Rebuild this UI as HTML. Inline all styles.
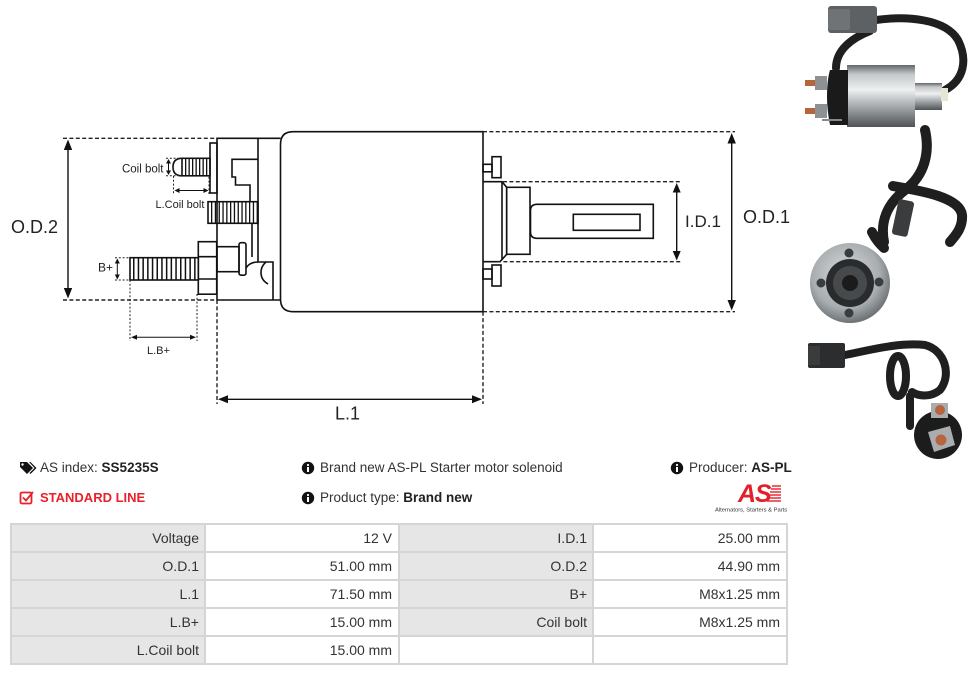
<!DOCTYPE html>
<html><head><meta charset="utf-8">
<style>
*{margin:0;padding:0;box-sizing:border-box}
html,body{width:976px;height:675px;background:#fff;overflow:hidden}
body{position:relative;font-family:"Liberation Sans",Arial,sans-serif;color:#333}
svg.main{position:absolute;left:0;top:0}
.t{position:absolute;font-size:13.5px;line-height:16px;white-space:nowrap;color:#333}
.t b{color:#222}
.red{color:#e8212b;font-weight:bold;font-size:13px}
.grid{position:absolute;left:10px;top:523px;width:778px;height:142px;background:#d5d5d5;padding:2px;display:grid;grid-template-columns:192px 192px 192px 192px;grid-template-rows:26px 26px 26px 26px 26px;gap:2px}
.grid div{background:#fff;font-size:14px;color:#333;display:flex;align-items:center;justify-content:flex-end;padding-right:6px;white-space:nowrap}
.grid div.l{background:#e6e6e6;padding-right:5px}
</style></head><body>
<svg class="main" width="976" height="675" viewBox="0 0 976 675" xmlns="http://www.w3.org/2000/svg">
<defs>
<linearGradient id="cyl" x1="0" y1="0" x2="0" y2="1">
<stop offset="0" stop-color="#62676a"/><stop offset="0.15" stop-color="#c4c8ca"/><stop offset="0.4" stop-color="#eef0f1"/><stop offset="0.72" stop-color="#979c9f"/><stop offset="1" stop-color="#4f5356"/>
</linearGradient>
<radialGradient id="fl" cx="0.45" cy="0.4" r="0.6">
<stop offset="0" stop-color="#d9dcde"/><stop offset="0.7" stop-color="#a8adb0"/><stop offset="1" stop-color="#6d7275"/>
</radialGradient>
</defs>

<!-- ===== DIAGRAM ===== -->
<g fill="none" stroke="#111" stroke-width="1.6">
<path d="M293,131.7 H483 V311.7 H293 Q280.5,311.7 280.5,299 V144.5 Q280.5,131.7 293,131.7 Z"/>
<path d="M280.5,138.3 H217 V300 H280.5"/>
<path d="M258,138.3 V262 H273 V300"/>
<path d="M266,262 C259,268 259,279 268,284"/>
<path d="M246,268 Q250,262 258,262"/>
<path d="M258,159.3 H232 V177 H235.5 V185 H250 V201.7 M252,223.3 V257"/>
<rect x="210" y="143" width="7" height="50"/>
<rect x="182" y="158.3" width="28" height="17.5"/>
<path d="M182,158.3 Q173,158.3 173,167 Q173,175.8 182,175.8"/>
<rect x="208" y="201.7" width="50" height="21.6"/>
<rect x="198.3" y="241.7" width="18.4" height="52.5"/>
<path d="M198.3,256.7 H216.7 M198.3,279 H216.7"/>
<rect x="130" y="257.7" width="68.3" height="22.3"/>
<rect x="217" y="246.7" width="22" height="25"/>
<rect x="239" y="242.7" width="7" height="32.5" rx="2"/>
<!-- right side -->
<rect x="483" y="164.3" width="9" height="7.5"/>
<rect x="492" y="156.7" width="9" height="21"/>
<rect x="483" y="269" width="9" height="10"/>
<rect x="492" y="265" width="9" height="21"/>
<path d="M483,181.7 H502 L506.7,187.3 V254.3 L500,261.7 H483"/>
<path d="M502,182 V260"/>
<rect x="506.7" y="187.3" width="23.3" height="67"/>
<path d="M537,204.3 H653.3 V238.3 H537 Q530.5,238.3 530.5,232 V210.5 Q530.5,204.3 537,204.3 Z"/>
<rect x="573.3" y="214.3" width="66.7" height="16"/>
</g>
<!-- threads -->
<g stroke="#111" fill="none">
<line x1="133" y1="268.8" x2="198" y2="268.8" stroke-width="22" stroke-dasharray="1.5 3.2"/>
<line x1="185" y1="167" x2="210" y2="167" stroke-width="17" stroke-dasharray="1.3 2.2"/>
<line x1="211" y1="212.5" x2="258" y2="212.5" stroke-width="21" stroke-dasharray="1.3 2.5"/>
</g>
<!-- dimension lines -->
<g fill="none" stroke="#222" stroke-width="1.4" stroke-dasharray="4 2.4">
<path d="M63,138.3 H217 M63,300 H217"/>
<path d="M483,131.7 H735 M483,311.7 H735"/>
<path d="M503,181.7 H681 M497,261.7 H681"/>
<path d="M217,300 V404 M483,311.7 V404"/>
</g>
<g fill="none" stroke="#222" stroke-width="1" stroke-dasharray="2 1.8">
<path d="M166,158.3 H182 M166,175.8 H182"/>
<path d="M173.5,176 V194 M209,194 V176"/>
<path d="M115,257.7 H130 M115,280 H130"/>
<path d="M130,280 V341 M197,294 V341"/>
</g>
<g stroke="#111" stroke-width="1.4">
<line x1="68" y1="142" x2="68" y2="296"/>
<line x1="731.7" y1="136" x2="731.7" y2="307"/>
<line x1="676.7" y1="186" x2="676.7" y2="257"/>
<line x1="221" y1="399.3" x2="479" y2="399.3"/>
<line x1="168.5" y1="161" x2="168.5" y2="173" stroke-width="1"/>
<line x1="176" y1="190.5" x2="207" y2="190.5" stroke-width="1"/>
<line x1="117.3" y1="260" x2="117.3" y2="278" stroke-width="1"/>
<line x1="133" y1="337.3" x2="194" y2="337.3" stroke-width="1"/>
</g>
<g fill="#111">
<polygon points="68,139.5 63.8,150 72.2,150"/><polygon points="68,298.5 63.8,288 72.2,288"/>
<polygon points="731.7,133 727.5,143.5 735.9,143.5"/><polygon points="731.7,310.5 727.5,300 735.9,300"/>
<polygon points="676.7,183 672.7,192.5 680.7,192.5"/><polygon points="676.7,260.5 672.7,251 680.7,251"/>
<polygon points="218,399.3 228,395.3 228,403.3"/><polygon points="482,399.3 472,395.3 472,403.3"/>
<polygon points="168.5,159 166,163.5 171,163.5"/><polygon points="168.5,175 166,170.5 171,170.5"/>
<polygon points="174.5,190.5 179.5,188 179.5,193"/><polygon points="208.5,190.5 203.5,188 203.5,193"/>
<polygon points="117.3,258.5 114.8,263.5 119.8,263.5"/><polygon points="117.3,279.5 114.8,274.5 119.8,274.5"/>
<polygon points="131,337.3 137,334.8 137,339.8"/><polygon points="196,337.3 190,334.8 190,339.8"/>
</g>
<g font-family="Liberation Sans, Arial, sans-serif" fill="#222">
<text x="11" y="233" font-size="18">O.D.2</text>
<text x="743" y="223" font-size="18">O.D.1</text>
<text x="685" y="227" font-size="17">I.D.1</text>
<text x="335" y="419.5" font-size="18">L.1</text>
<text x="147" y="354" font-size="11">L.B+</text>
<text x="98" y="271.5" font-size="12">B+</text>
<text x="163.5" y="172.5" font-size="11.5" text-anchor="end">Coil bolt</text>
<text x="155.5" y="208" font-size="11">L.Coil bolt</text>
</g>

<!-- ===== PHOTOS ===== -->
<!-- photo 1 -->
<g fill="none" stroke="#1f1f1f" stroke-width="8" stroke-linecap="round">
<path d="M876,20 C905,16 945,18 958,40 C968,60 964,80 945,90"/>
<path d="M870,31 C852,38 836,50 836,68"/>
</g>
<rect x="828" y="6" width="49" height="27" rx="3" fill="#5d6164"/>
<rect x="828" y="9" width="22" height="21" rx="2" fill="#6f7376"/>
<rect x="847" y="65" width="68" height="62" fill="url(#cyl)"/>
<path d="M830,70 H848 V125 H830 Q827,110 827,97 Q827,80 830,70 Z" fill="#1a1a1a"/>
<rect x="915" y="83" width="27" height="27" fill="url(#cyl)"/>
<rect x="941" y="88" width="7" height="13" fill="#e8e4d6"/>
<rect x="815" y="76" width="12" height="14" fill="#8d9193"/>
<rect x="815" y="104" width="12" height="14" fill="#8d9193"/>
<rect x="805" y="80" width="10" height="6" fill="#b4653c"/>
<rect x="805" y="108" width="10" height="6" fill="#b4653c"/>
<path d="M822,120 H842" stroke="#888" stroke-width="2"/>
<!-- photo 2 -->
<g fill="none" stroke="#1f1f1f" stroke-width="10" stroke-linecap="round">
<path d="M925,130 C930,152 925,175 905,190 C887,204 880,222 884,242"/>
<path d="M893,186 C915,190 960,196 962,215 C963,228 955,236 950,242"/>
<path d="M872,232 C876,240 880,244 884,248"/>
</g>
<rect x="895" y="200" width="16" height="36" rx="3" fill="#3a3c3e" transform="rotate(12 903 218)"/>
<circle cx="850" cy="283" r="40" fill="url(#fl)"/>
<circle cx="850" cy="283" r="24" fill="#2a2b2c"/>
<circle cx="850" cy="283" r="17" fill="#474a4c"/>
<circle cx="850" cy="283" r="8" fill="#1b1b1b"/>
<g fill="#3a3d3f"><circle cx="821" cy="283" r="4.5"/><circle cx="879" cy="282" r="4.5"/><circle cx="849" cy="253" r="4.5"/><circle cx="849" cy="313" r="4.5"/></g>
<!-- photo 3 -->
<g fill="none" stroke="#1f1f1f" stroke-width="8" stroke-linecap="round">
<path d="M845,355 C870,350 900,342 925,345 C945,350 952,375 940,390 C930,398 918,396 912,392"/>
<ellipse cx="898" cy="376" rx="8" ry="20"/>
<path d="M910,396 V426"/>
</g>
<rect x="808" y="343" width="37" height="25" rx="2" fill="#2c2d2e"/>
<rect x="808" y="346" width="12" height="19" fill="#3a3b3c"/>
<circle cx="938" cy="435" r="24" fill="#1c1c1c"/>
<rect x="931" y="403" width="17" height="15" fill="#a9adb0"/>
<polygon points="928,432 950,426 955,445 934,452" fill="#a9adb0"/>
<circle cx="940" cy="410" r="5" fill="#b8653d"/>
<circle cx="941" cy="440" r="5.5" fill="#b8653d"/>

<!-- AS logo -->
<text x="738" y="502" font-family="Liberation Sans, Arial, sans-serif" font-weight="bold" font-style="italic" font-size="25" fill="#e3202a" letter-spacing="-1">AS</text>
<g stroke="#e3202a" stroke-width="1.4">
<line x1="772" y1="486" x2="781" y2="486"/><line x1="771" y1="489" x2="781" y2="489"/><line x1="770" y1="492" x2="781" y2="492"/><line x1="769" y1="495" x2="781" y2="495"/><line x1="768" y1="498" x2="781" y2="498"/><line x1="767" y1="501" x2="781" y2="501"/>
</g>
<text x="715" y="511.5" font-family="Liberation Sans, Arial, sans-serif" font-size="5.8" fill="#333">Alternators, Starters &amp; Parts</text>

<!-- icons -->
<g fill="#111">
<path d="M20,462 H27 L33,468 L27,474 L20,467 Z"/>
<path d="M29,462 H30.5 L36.5,468 L30.5,474 L29.5,473 L34.5,468 Z"/>
</g>
<circle cx="22.5" cy="464.5" r="1.2" fill="#fff"/>
<g>
<circle cx="308" cy="468" r="6.2" fill="#111"/><rect x="307" y="467" width="2" height="5" fill="#fff"/><circle cx="308" cy="465" r="1.1" fill="#fff"/>
<circle cx="308" cy="498" r="6.2" fill="#111"/><rect x="307" y="497" width="2" height="5" fill="#fff"/><circle cx="308" cy="495" r="1.1" fill="#fff"/>
<circle cx="677" cy="468" r="6.2" fill="#111"/><rect x="676" y="467" width="2" height="5" fill="#fff"/><circle cx="677" cy="465" r="1.1" fill="#fff"/>
</g>
<g fill="none" stroke="#e8212b" stroke-width="1.8">
<rect x="20.5" y="492.5" width="11" height="11" rx="1.5"/>
<path d="M23,497.5 L26,500.5 L33,492"/>
</g>
</svg>

<div class="t" style="left:40px;top:460px">AS index: <b>SS5235S</b></div>
<div class="t" style="left:320px;top:460px">Brand new AS-PL Starter motor solenoid</div>
<div class="t" style="left:689px;top:460px">Producer: <b>AS-PL</b></div>
<div class="t red" style="left:40px;top:490px">STANDARD LINE</div>
<div class="t" style="left:320px;top:490px">Product type: <b>Brand new</b></div>

<div class="grid">
<div class="l">Voltage</div><div>12 V</div><div class="l">I.D.1</div><div>25.00 mm</div>
<div class="l">O.D.1</div><div>51.00 mm</div><div class="l">O.D.2</div><div>44.90 mm</div>
<div class="l">L.1</div><div>71.50 mm</div><div class="l">B+</div><div>M8x1.25 mm</div>
<div class="l">L.B+</div><div>15.00 mm</div><div class="l">Coil bolt</div><div>M8x1.25 mm</div>
<div class="l">L.Coil bolt</div><div>15.00 mm</div><div></div><div></div>
</div>
</body></html>
